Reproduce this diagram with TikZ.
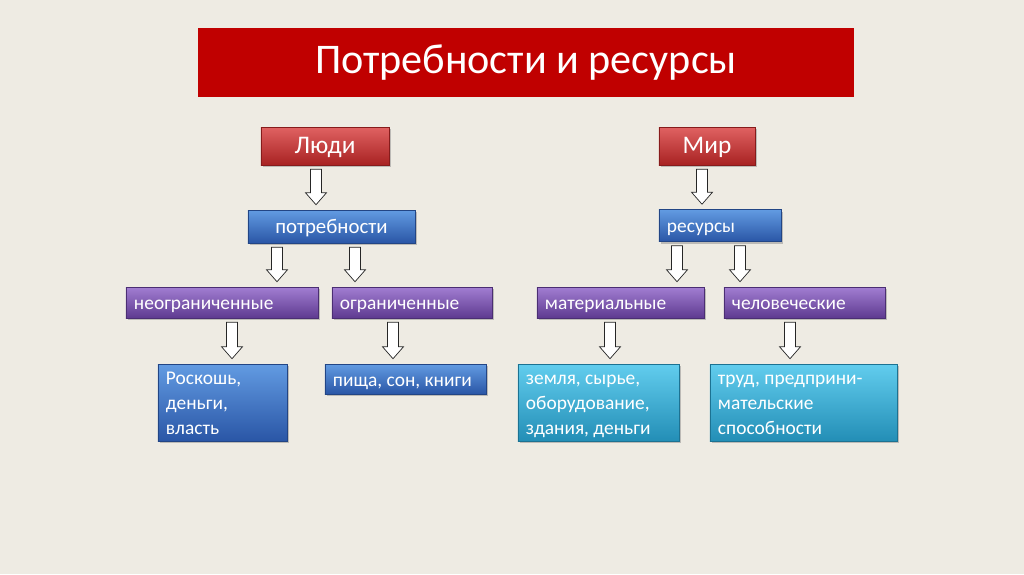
\documentclass[tikz,border=0pt]{standalone}
\usepackage{fontspec}
\setmainfont{Carlito}
\usetikzlibrary{shapes,arrows,calc,shadows}
\usepackage{xcolor}
\definecolor{bgbeige}{HTML}{EEEBE3}
\definecolor{titlered}{HTML}{C00000}
\definecolor{redtop}{HTML}{E06262}
\definecolor{redmid}{HTML}{C83232}
\definecolor{redbot}{HTML}{A82222}
\definecolor{bluetop}{HTML}{629BE2}
\definecolor{bluemid}{HTML}{3C72C8}
\definecolor{bluebot}{HTML}{2A56A6}
\definecolor{purpletop}{HTML}{A27ED2}
\definecolor{purplemid}{HTML}{7B51B1}
\definecolor{purplebot}{HTML}{5E3A90}
\definecolor{cyantop}{HTML}{62CDEE}
\definecolor{cyanmid}{HTML}{35AAD3}
\definecolor{cyanbot}{HTML}{238EB6}

% hollow block arrow: x position, source node, target node
\newcommand{\hollowarrow}[3]{%
  \coordinate (s) at (#1,0 |- #2.south);
  \coordinate (t) at (#1,0 |- #3.north);
  \draw[hollow] ($(s)+(-5.5,4)$) -- ($(s)+(5.5,4)$) -- ($(t)+(5.5,-17)$)
    -- ($(t)+(10.5,-17)$) -- ($(t)+(0,-5)$) -- ($(t)+(-10.5,-17)$)
    -- ($(t)+(-5.5,-17)$) -- cycle;}

\begin{document}
\begin{tikzpicture}[x=0.025cm, y=-0.025cm]
        \tikzstyle{box} = [rectangle, draw, line width=0.4pt, text=white, inner xsep=0.2cm, inner ysep=0pt, align=flush left,
          font=\fontsize{13.8}{17.8}\selectfont, drop shadow={opacity=0.45, shadow xshift=1.5pt, shadow yshift=-1.5pt}]
        \tikzstyle{oneline} = [text height=13pt, text depth=2.5pt]
        \tikzstyle{multiline} = [execute at begin node={\rule{0pt}{13pt}}, execute at end node={\rule[-3pt]{0pt}{3pt}}]
        \tikzstyle{redbox} = [box, top color=redtop, middle color=redmid, bottom color=redbot, draw=redbot!80!black]
        \tikzstyle{bluebox} = [box, top color=bluetop, middle color=bluemid, bottom color=bluebot, draw=bluebot!80!black]
        \tikzstyle{purplebox} = [box, oneline, top color=purpletop, middle color=purplemid, bottom color=purplebot, draw=purplebot!80!black]
        \tikzstyle{cyanbox} = [box, top color=cyantop, middle color=cyanmid, bottom color=cyanbot, draw=cyanbot!80!black]
        \tikzstyle{hollow} = [draw=black!85, fill=white, line width=0.5pt, line join=miter]

        \fill[bgbeige] (0,0) rectangle (1024,574);
        \useasboundingbox (0,0) rectangle (1024,574);

        \node[fill=titlered, text=white, minimum width=16.4cm, minimum height=1.725cm,
          font=\fontsize{30}{36}\selectfont] (title) at (526,62.5) {Потребности и ресурсы};

        \node[redbox, oneline, minimum width=3.2cm, minimum height=0.95cm, align=center, font=\fontsize{18}{22}\selectfont] (people) at (325,146) {Люди};
        \node[redbox, oneline, minimum width=2.4cm, minimum height=0.95cm, align=center, font=\fontsize{18}{22}\selectfont] (world) at (707,146) {Мир};

        \node[bluebox, oneline, minimum width=4.175cm, minimum height=0.825cm, align=center, font=\fontsize{14.8}{17.8}\selectfont] (needs) at (331.5,226.5) {потребности};
        \node[bluebox, oneline, text width=2.65cm, minimum height=0.8cm] (res) at (720,225.5) {ресурсы};

        \node[purplebox, text width=4.4cm, minimum height=0.775cm] (unlim) at (222,302.5) {неограниченные};
        \node[purplebox, text width=3.6cm, minimum height=0.775cm] (lim) at (412,302.5) {ограниченные};
        \node[purplebox, text width=3.775cm, minimum height=0.775cm] (mat) at (620.5,302.5) {материальные};
        \node[purplebox, text width=3.625cm, minimum height=0.775cm] (hum) at (804.5,302.5) {человеческие};

        \node[bluebox, multiline, text width=2.825cm, minimum height=1.925cm] (luxury) at (222.5,402.5) {Роскошь,\\деньги,\\власть};
        \node[bluebox, oneline, text width=3.625cm, minimum height=0.75cm] (food) at (405.5,379) {пища, сон, книги};
        \node[cyanbox, multiline, text width=3.625cm, minimum height=1.925cm] (land) at (598.5,402.5) {земля, сырье,\\оборудование,\\здания, деньги};
        \node[cyanbox, multiline, text width=4.275cm, minimum height=1.925cm] (labour) at (803.5,402.5) {труд, предприни-\\мательские\\способности};

        \hollowarrow{316}{people}{needs}
        \hollowarrow{702}{world}{res}
        \hollowarrow{277}{needs}{unlim}
        \hollowarrow{355}{needs}{lim}
        \hollowarrow{677}{res}{mat}
        \hollowarrow{740}{res}{hum}
        \hollowarrow{232}{unlim}{luxury}
        \hollowarrow{393}{lim}{food}
        \hollowarrow{610}{mat}{land}
        \hollowarrow{790}{hum}{labour}
\end{tikzpicture}
\end{document}
